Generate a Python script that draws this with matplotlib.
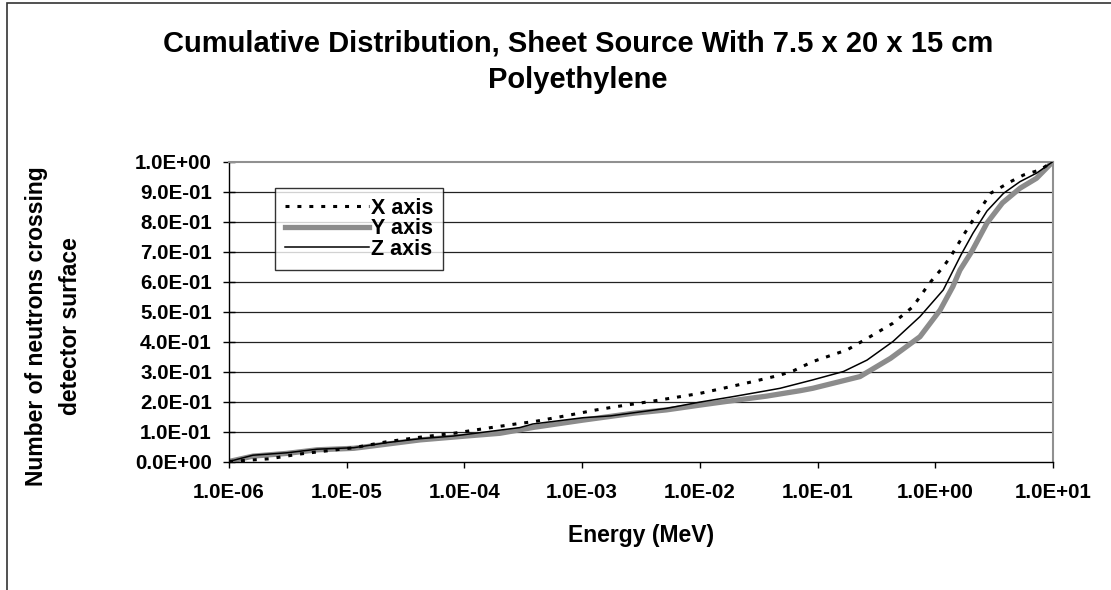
import matplotlib
matplotlib.use("Agg")
import matplotlib.pyplot as plt
from matplotlib.ticker import FuncFormatter, FixedLocator, NullLocator
from matplotlib.patches import Rectangle

plt.rcParams['font.family'] = ['Liberation Sans', 'DejaVu Sans']
plt.rcParams['font.weight'] = 'bold'

# energies (MeV) and cumulative fractions
x_energy = [1e-6, 2.2e-6, 4.0e-6, 1.15e-5, 2.2e-5, 4.2e-5, 8.1e-5, 1.55e-4, 2.95e-4,
            3.9e-4, 7.4e-4, 1.32e-3, 1.95e-3, 3.8e-3, 6.3e-3, 1.0e-2, 1.7e-2, 2.8e-2,
            4.8e-2, 6.2e-2, 9.1e-2, 0.178, 0.263, 0.437, 0.646, 0.891, 1.17, 1.35,
            1.74, 2.09, 2.4, 2.95, 4.37, 5.62, 7.76, 10.0]
x_frac = [0.0, 0.009, 0.025, 0.046, 0.066, 0.081, 0.094, 0.111, 0.127,
          0.133, 0.153, 0.172, 0.183, 0.200, 0.214, 0.227, 0.247, 0.266,
          0.288, 0.302, 0.333, 0.372, 0.410, 0.461, 0.516, 0.594, 0.649, 0.683,
          0.755, 0.805, 0.840, 0.894, 0.933, 0.955, 0.972, 1.0]

y_energy = [1e-6, 1.6e-6, 3.1e-6, 5.6e-6, 1.15e-5, 2.2e-5, 4.2e-5, 1.12e-4, 2.0e-4,
            3.9e-4, 1.02e-3, 2.75e-3, 5.2e-3, 1.0e-2, 1.9e-2, 3.7e-2, 7.1e-2, 9.1e-2,
            0.229, 0.417, 0.741, 1.10, 1.41, 1.62, 2.04, 2.75, 3.72, 5.25, 7.24, 10.0]
y_frac = [0.0, 0.018, 0.027, 0.039, 0.044, 0.058, 0.072, 0.086, 0.094,
          0.114, 0.138, 0.161, 0.172, 0.188, 0.203, 0.218, 0.236, 0.244,
          0.283, 0.344, 0.416, 0.505, 0.583, 0.638, 0.700, 0.795, 0.862, 0.911, 0.944, 1.0]

z_energy = [1e-6, 1.6e-6, 3.1e-6, 5.6e-6, 1.15e-5, 2.2e-5, 4.2e-5, 8.1e-5, 1.55e-4,
            2.95e-4, 3.8e-4, 1.02e-3, 1.74e-3, 5.2e-3, 1.0e-2, 1.9e-2, 3.7e-2, 4.8e-2,
            9.1e-2, 0.166, 0.263, 0.437, 0.741, 1.17, 1.66, 2.09, 2.75, 3.8, 5.25,
            7.24, 10.0]
z_frac = [0.0, 0.021, 0.029, 0.041, 0.046, 0.063, 0.076, 0.085, 0.099,
          0.113, 0.125, 0.146, 0.152, 0.177, 0.198, 0.216, 0.236, 0.244,
          0.272, 0.300, 0.338, 0.400, 0.483, 0.572, 0.690, 0.761, 0.835, 0.894, 0.933,
          0.961, 1.0]

x_ticks = [1e-6, 1e-5, 1e-4, 1e-3, 1e-2, 1e-1, 1e0, 1e1]
y_ticks = [0.0, 0.1, 0.2, 0.3, 0.4, 0.5, 0.6, 0.7, 0.8, 0.9, 1.0]

W, H = 1111, 590
fig = plt.figure(figsize=(W / 100, H / 100), dpi=100)
ax = fig.add_axes([229 / W, 1 - 461.5 / H, 824 / W, 300 / H])

# outer chart frame (only left and top edges visible)
fig.patches.append(Rectangle((7 / W, -1), 2, 1 + (1 - 3 / H), transform=fig.transFigure,
                             fill=False, edgecolor='#333333', linewidth=1.2))

ax.plot(x_energy, x_frac, color='black', linewidth=2.2, linestyle=(0, (1.3, 2.6)),
        label='X axis', zorder=3)
ax.plot(y_energy, y_frac, color='#8c8c8c', linewidth=3.8, label='Y axis', zorder=2)
ax.plot(z_energy, z_frac, color='black', linewidth=1.1, label='Z axis', zorder=4)

ax.set_xscale('log')
ax.set_xlim(1e-6, 1e1)
ax.set_ylim(0, 1)
ax.xaxis.set_major_locator(FixedLocator(x_ticks))
ax.xaxis.set_minor_locator(NullLocator())
ax.yaxis.set_major_locator(FixedLocator(y_ticks))
ax.xaxis.set_major_formatter(FuncFormatter(lambda v, p: f"{v:.1E}"))
ax.yaxis.set_major_formatter(FuncFormatter(lambda v, p: f"{v:.1E}"))

for v in y_ticks[1:-1]:
    ax.axhline(v, color='#222222', linewidth=0.9, zorder=1)

for side in ['top', 'right']:
    ax.spines[side].set_color('#909090')
    ax.spines[side].set_linewidth(1.5)
for side in ['left', 'bottom']:
    ax.spines[side].set_color('black')
    ax.spines[side].set_linewidth(1.0)

ax.tick_params(axis='y', direction='inout', length=8.6, width=1, pad=8, labelsize=14.8)
ax.tick_params(axis='x', direction='out', length=4.3, width=1, pad=11, labelsize=14.8)
for lab in ax.get_xticklabels() + ax.get_yticklabels():
    lab.set_fontweight('bold')

fig.text(578 / W, 1 - 51 / H, 'Cumulative Distribution, Sheet Source With 7.5 x 20 x 15 cm',
         ha='center', va='baseline', fontsize=21, fontweight='bold')
fig.text(578 / W, 1 - 88 / H, 'Polyethylene',
         ha='center', va='baseline', fontsize=21, fontweight='bold')

fig.text(641 / W, 1 - 542 / H, 'Energy (MeV)', ha='center', va='baseline',
         fontsize=16.5, fontweight='bold')
fig.text(43 / W, 1 - 326 / H, 'Number of neutrons crossing', rotation=90,
         ha='center', va='baseline', fontsize=16.5, fontweight='bold', rotation_mode='anchor')
fig.text(77 / W, 1 - 326 / H, 'detector surface', rotation=90,
         ha='center', va='baseline', fontsize=16.5, fontweight='bold', rotation_mode='anchor')

leg = ax.legend(loc='upper left', bbox_to_anchor=(46 / 824, 1 - 26.5 / 300),
                borderaxespad=0, frameon=True, fancybox=False,
                labelspacing=-0.02, handlelength=3.9, handletextpad=0.1,
                borderpad=0.45, prop={'weight': 'bold', 'size': 15.5})
leg.get_frame().set_edgecolor('black')
leg.get_frame().set_linewidth(1.0)

fig.savefig('out.png', dpi=100)
